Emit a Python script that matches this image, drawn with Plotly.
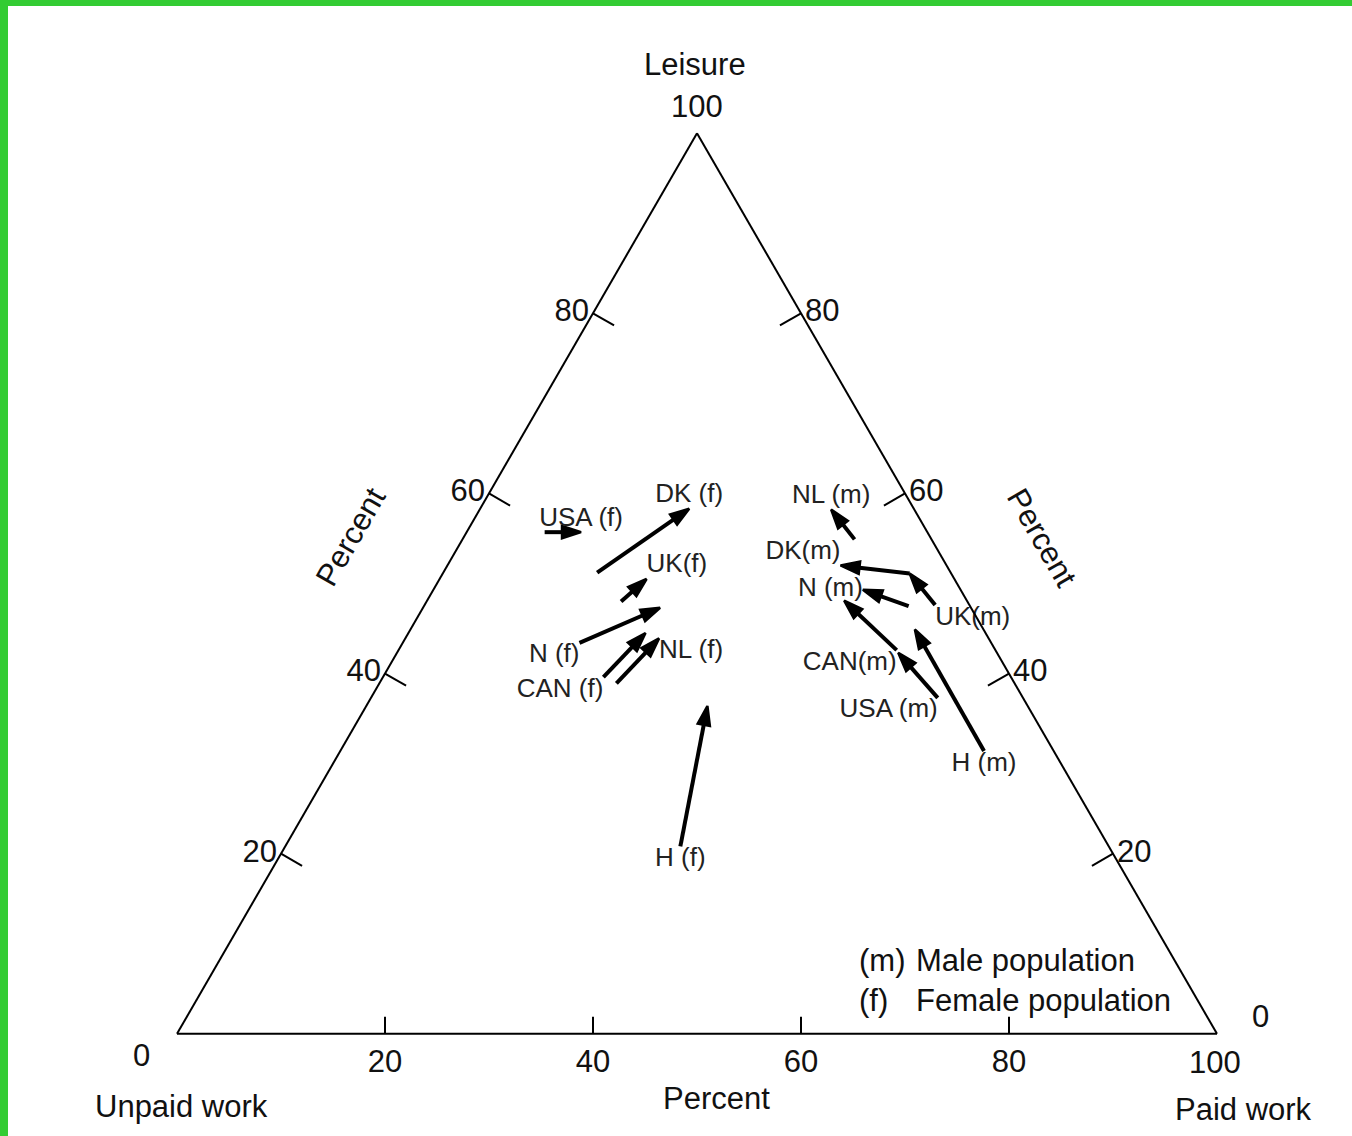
import plotly.graph_objects as go

# ---- data (percent of time) ----
labels = ["USA (f)", "DK (f)", "UK(f)", "N (f)", "CAN (f)", "NL (f)", "H (f)",
          "NL (m)", "DK(m)", "N (m)", "UK(m)", "CAN(m)", "USA (m)", "H (m)"]
leisure_from = [55.7, 51.2, 48.0, 43.4, 39.6, 38.9, 20.8,
                54.9, 51.1, 47.5, 47.6, 42.6, 37.3, 31.4]
paid_from = [7.5, 14.8, 18.7, 17.0, 21.2, 22.8, 38.0,
             37.7, 44.9, 46.6, 49.1, 47.9, 54.5, 61.9]
leisure_to = [55.7, 58.3, 50.5, 47.3, 44.5, 43.9, 36.4,
              58.2, 52.0, 49.3, 51.1, 48.1, 42.3, 44.9]
paid_to = [11.0, 20.1, 19.9, 22.8, 22.8, 24.4, 32.8,
           33.8, 37.8, 41.3, 44.9, 40.1, 48.2, 48.5]
unpaid_from = [100 - l - p for l, p in zip(leisure_from, paid_from)]
unpaid_to = [100 - l - p for l, p in zip(leisure_to, paid_to)]

bottom_ticks = [20, 40, 60, 80]      # paid work percent along the base
side_ticks = [20, 40, 60, 80]        # leisure percent along both sides

# label placement (style)
label_anchor = ["to", "to", "to", "from", "from", "to", "from",
                "to", "to", "to", "from", "from", "from", "from"]
label_pos = ["top center", "top center", "top right", "bottom left", "bottom left",
             "bottom right", "bottom center", "top center", "top left", "middle left",
             "bottom right", "bottom left", "bottom left", "bottom center"]

W, H = 1352, 1136
FONT = "Liberation Sans, Arial, sans-serif"
SIDE_TICK = 2.7     # tick length in percent units (sides)
BASE_TICK = 1.9     # tick length in percent units (base)

fig = go.Figure()

# perpendicular inward tick marks on the three edges
tka, tkb, tkc = [], [], []
for v in side_ticks:
    # left edge (paid = 0)
    tka += [v, v - SIDE_TICK / 2, None]
    tkb += [100 - v, 100 - v - SIDE_TICK / 2, None]
    tkc += [0, SIDE_TICK, None]
    # right edge (unpaid = 0)
    tka += [v, v - SIDE_TICK / 2, None]
    tkb += [0, SIDE_TICK, None]
    tkc += [100 - v, 100 - v - SIDE_TICK / 2, None]
for v in bottom_ticks:
    # base (leisure = 0)
    tka += [0, BASE_TICK, None]
    tkb += [100 - v, 100 - v - BASE_TICK / 2, None]
    tkc += [v, v - BASE_TICK / 2, None]
fig.add_trace(go.Scatterternary(
    a=tka, b=tkb, c=tkc, mode="lines", line=dict(color="black", width=2),
    connectgaps=False, hoverinfo="skip", showlegend=False,
))

for i in range(len(labels)):
    fig.add_trace(go.Scatterternary(
        a=[leisure_from[i], leisure_to[i]],
        b=[unpaid_from[i], unpaid_to[i]],
        c=[paid_from[i], paid_to[i]],
        mode="lines+markers",
        line=dict(color="black", width=4, backoff=6),
        marker=dict(symbol="arrow", size=[0, 20], color="black", opacity=1,
                    angleref="previous", line=dict(width=2.5, color="black")),
        hoverinfo="skip", showlegend=False,
    ))

ta, tb, tc = [], [], []
for i in range(len(labels)):
    if label_anchor[i] == "to":
        ta.append(leisure_to[i]); tb.append(unpaid_to[i]); tc.append(paid_to[i])
    else:
        ta.append(leisure_from[i]); tb.append(unpaid_from[i]); tc.append(paid_from[i])

fig.add_trace(go.Scatterternary(
    a=ta, b=tb, c=tc, mode="text", text=labels, textposition=label_pos,
    textfont=dict(family=FONT, size=26, color="#222222"), cliponaxis=False,
    hoverinfo="skip", showlegend=False,
))

axis_common = dict(showgrid=False, linecolor="black", linewidth=2, ticks="",
                   tickfont=dict(family=FONT, size=31, color="#111111"),
                   title=dict(text=""), min=0)

fig.update_layout(
    width=W, height=H,
    margin=dict(l=0, r=0, t=0, b=0),
    paper_bgcolor="white",
    ternary=dict(
        sum=100,
        domain=dict(x=[177 / W, 1217 / W], y=[1 - 1034 / H, 1 - 133 / H]),
        bgcolor="white",
        aaxis=dict(tickmode="array", tickvals=side_ticks,
                   ticktext=[str(v) for v in side_ticks], **axis_common),
        baxis=dict(tickmode="array", tickvals=[100 - v for v in bottom_ticks],
                   ticktext=[str(v) for v in bottom_ticks], **axis_common),
        caxis=dict(tickmode="array", tickvals=[100 - v for v in side_ticks],
                   ticktext=[str(v) for v in side_ticks], **axis_common),
    ),
)

def ann(text, x, y, size=31, angle=0, xanchor="center"):
    fig.add_annotation(text=text, x=x / W, y=1 - y / H, xref="paper", yref="paper",
                       showarrow=False, textangle=angle, xanchor=xanchor, yanchor="middle",
                       font=dict(family=FONT, size=size, color="#111111"))

ann("Leisure", 695, 64)
ann("100", 697, 106)
ann("0", 141, 1055)
ann("Unpaid work", 181, 1106)
ann("Percent", 716, 1098)
ann("100", 1215, 1062)
ann("Paid work", 1243, 1109)
ann("0", 1260, 1016)
ann("Percent", 350, 537, angle=-60)
ann("Percent", 1042, 537, angle=60)
ann("(m)", 857, 960, xanchor="left")
ann("Male population", 914, 960, xanchor="left")
ann("(f)", 857, 1000, xanchor="left")
ann("Female population", 914, 1000, xanchor="left")

# green frame on the left and top edges
fig.add_shape(type="rect", xref="paper", yref="paper", x0=0, x1=8 / W, y0=0, y1=1,
              fillcolor="#33CC33", line=dict(width=0), layer="above")
fig.add_shape(type="rect", xref="paper", yref="paper", x0=0, x1=1, y0=1 - 6 / H, y1=1,
              fillcolor="#33CC33", line=dict(width=0), layer="above")

fig.write_html("out.html", config={"displayModeBar": False},
               post_script="document.body.style.margin='0';document.body.style.overflow='hidden';")
